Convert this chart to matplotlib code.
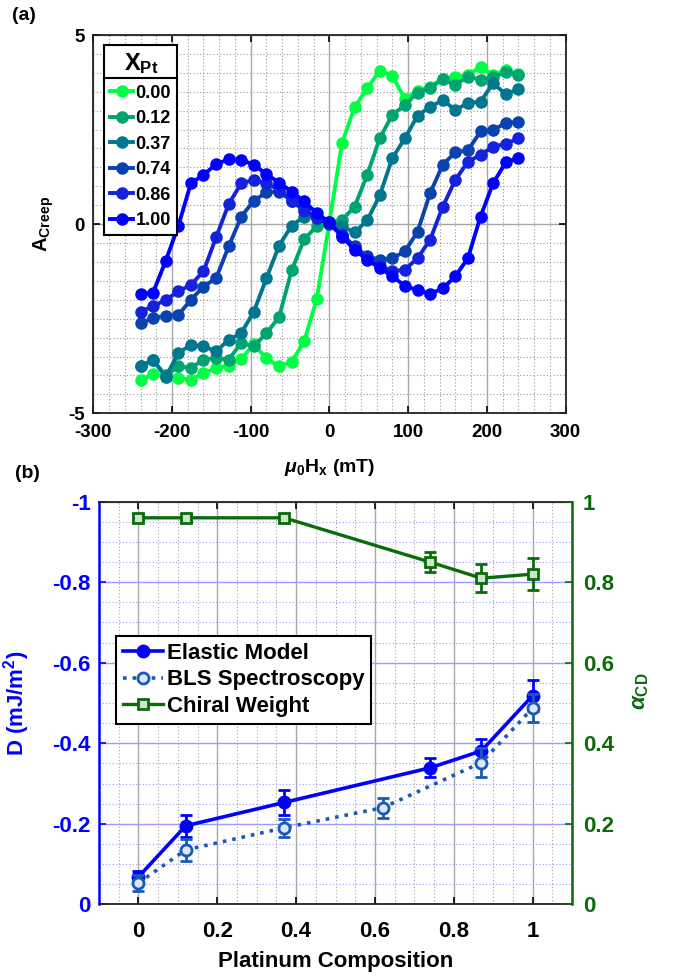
import matplotlib
matplotlib.use("Agg")
import matplotlib.pyplot as plt
from matplotlib.lines import Line2D
from matplotlib.transforms import IdentityTransform
from matplotlib.ticker import MultipleLocator

plt.rcParams['font.family'] = ['Liberation Sans', 'DejaVu Sans']
plt.rcParams['font.weight'] = 'bold'
plt.rcParams['axes.unicode_minus'] = False
plt.rcParams['mathtext.fontset'] = 'custom'
plt.rcParams['mathtext.rm'] = 'Liberation Sans:bold'
plt.rcParams['mathtext.bf'] = 'Liberation Sans:bold'
plt.rcParams['mathtext.it'] = 'Liberation Sans:italic:bold'

# ---------------- data: panel (a) ----------------
field_mT = [-240, -224, -208, -192, -176, -160, -144, -128, -112, -96, -80, -64, -48, -32, -16,
            0, 16, 32, 48, 64, 80, 96, 112, 128, 144, 160, 176, 192, 208, 224, 240]
series_labels = ['0.00', '0.12', '0.37', '0.74', '0.86', '1.00']
series_colors = ['#00FF44', '#00A46E', '#00778E', '#0A42B0', '#1522DC', '#0000FF']
a_x000 = [-4.13, -3.95, -4.05, -4.07, -4.11, -3.94, -3.80, -3.74, -3.56, -3.18, -3.55, -3.76, -3.64, -3.10, -1.97,
          0.05, 2.14, 3.09, 3.59, 4.06, 3.92, 3.30, 3.53, 3.63, 3.85, 3.88, 3.94, 4.16, 3.94, 4.07, 3.97]
a_x012 = [-3.76, -3.60, -4.00, -3.76, -3.80, -3.58, -3.54, -3.58, -3.14, -3.23, -2.88, -2.46, -1.22, -0.40, -0.05,
          0.03, 0.11, 0.46, 1.30, 2.27, 2.89, 3.15, 3.48, 3.60, 3.83, 3.68, 3.90, 3.82, 3.88, 4.02, 3.95]
a_x037 = [-3.76, -3.58, -4.04, -3.41, -3.19, -3.23, -3.36, -3.06, -2.88, -2.31, -1.43, -0.57, -0.04, 0.20, 0.18,
          0.05, -0.05, -0.22, 0.10, 0.76, 1.75, 2.27, 2.87, 3.10, 3.28, 3.02, 3.20, 3.24, 3.72, 3.44, 3.56]
a_x074 = [-2.62, -2.48, -2.42, -2.40, -2.00, -1.65, -1.43, -0.59, 0.20, 0.62, 0.84, 0.86, 0.62, 0.35, 0.15,
          0.02, -0.28, -0.58, -0.85, -0.94, -0.90, -0.72, -0.20, 0.82, 1.57, 1.90, 1.95, 2.45, 2.49, 2.67, 2.71]
a_x086 = [-2.31, -2.17, -2.00, -1.78, -1.60, -1.25, -0.35, 0.53, 1.08, 1.17, 1.08, 0.90, 0.62, 0.38, 0.16,
          0.00, -0.30, -0.62, -0.90, -1.10, -1.25, -1.20, -0.90, -0.41, 0.46, 1.17, 1.65, 1.83, 2.05, 2.12, 2.27]
a_x100 = [-1.85, -1.81, -0.97, -0.05, 1.08, 1.30, 1.59, 1.71, 1.70, 1.57, 1.32, 1.10, 0.86, 0.60, 0.29,
          0.05, -0.33, -0.68, -0.94, -1.16, -1.38, -1.63, -1.75, -1.84, -1.70, -1.38, -0.90, 0.20, 1.08, 1.63, 1.75]
a_series = [a_x000, a_x012, a_x037, a_x074, a_x086, a_x100]

# ---------------- data: panel (b) ----------------
comp_elastic = [0.0, 0.12, 0.37, 0.74, 0.87, 1.0]
D_elastic = [-0.068, -0.195, -0.253, -0.339, -0.381, -0.518]
D_elastic_err = [0.015, 0.027, 0.030, 0.024, 0.030, 0.038]
comp_bls = [0.0, 0.12, 0.37, 0.62, 0.87, 1.0]
D_bls = [-0.053, -0.135, -0.190, -0.240, -0.352, -0.487]
D_bls_err = [0.020, 0.027, 0.022, 0.025, 0.037, 0.035]
comp_chiral = [0.0, 0.12, 0.37, 0.74, 0.87, 1.0]
alpha_chiral = [0.96, 0.96, 0.96, 0.85, 0.81, 0.82]
alpha_chiral_err = [0.010, 0.008, 0.010, 0.025, 0.035, 0.040]

xticks_a = [-300, -200, -100, 0, 100, 200, 300]
yticks_a = [-5, 0, 5]
xticks_b = [0, 0.2, 0.4, 0.6, 0.8, 1]
xticklabels_b = ['0', '0.2', '0.4', '0.6', '0.8', '1']
yticks_b_left = [0, -0.2, -0.4, -0.6, -0.8, -1]
yticklabels_b_left = ['0', '-0.2', '-0.4', '-0.6', '-0.8', '-1']
yticks_b_right = [0, 0.2, 0.4, 0.6, 0.8, 1]
yticklabels_b_right = ['0', '0.2', '0.4', '0.6', '0.8', '1']

BLUE = '#0000FF'
BLS_C = '#1A5AB4'
GREEN = '#0B6B0B'

W, H = 675, 977
fig = plt.figure(figsize=(W / 100, H / 100), dpi=100)

# ================= panel (a) =================
ax = fig.add_axes([93.3 / W, 1 - 413.3 / H, 472.2 / W, 378.3 / H])
for ys, lab, col in zip(a_series, series_labels, series_colors):
    ax.plot(field_mT, ys, '-o', color=col, lw=2.8, ms=8, mec=col, mfc=col, label=lab)
ax.set_xlim(-300, 300)
ax.set_ylim(-5, 5)
ax.set_xticks(xticks_a)
ax.set_yticks(yticks_a)
ax.xaxis.set_minor_locator(MultipleLocator(20))
ax.yaxis.set_minor_locator(MultipleLocator(0.5))
ax.grid(which='major', color='#A8A8A8', lw=1.0, ls='-')
ax.grid(which='minor', color='#9A9A9A', lw=0.8, ls=(0, (1, 2)))
ax.set_axisbelow(True)
ax.tick_params(which='major', direction='in', top=True, right=True, length=5, width=1.2,
               labelsize=13.5, pad=8)
ax.tick_params(axis='y', which='major', pad=6)
ax.tick_params(which='minor', length=0)
for s in ax.spines.values():
    s.set_linewidth(1.3)
    s.set_color('#222222')
ax.set_ylabel(r'$\mathbf{A_{Creep}}$', fontsize=14.5)
ax.yaxis.set_label_coords(-0.079, 0.5)
fig.text(329.3 / W, 1 - 467 / H, r'$\mathit{\mu}_{\mathbf{0}}\mathbf{H_x}$ (mT)', ha='center', va='center',
         fontsize=14, fontweight='bold')
fig.text(12 / W, 1 - 16 / H, '(a)', fontsize=14, fontweight='bold', va='center', ha='left')

leg = ax.legend(loc='upper left', bbox_to_anchor=(0.0227, 0.9736), borderaxespad=0,
                fontsize=13, title=r'$\mathbf{X_{Pt}}$', title_fontsize=17,
                handlelength=1.25, handletextpad=0.15, labelspacing=0.47, borderpad=0.35,
                fancybox=False, framealpha=1, edgecolor='black')
leg.get_frame().set_linewidth(1.5)
for t in leg.get_texts():
    t.set_fontweight('bold')

# ================= panel (b) =================
bx = fig.add_axes([99 / W, 1 - 904.3 / H, 473 / W, 402.6 / H])
bx.set_xlim(-0.1, 1.1)
bx.set_ylim(0, -1)
bx.set_xticks(xticks_b)
bx.set_xticklabels(xticklabels_b)
bx.set_yticks(yticks_b_left)
bx.set_yticklabels(yticklabels_b_left)
bx.xaxis.set_minor_locator(MultipleLocator(0.05))
bx.yaxis.set_minor_locator(MultipleLocator(0.05))
bx.grid(axis='x', which='major', color='#A8A8A8', lw=1.0, ls='-')
bx.grid(axis='x', which='minor', color='#A0A0A0', lw=0.8, ls=(0, (1, 2)))
bx.grid(axis='y', which='major', color='#9C9CFF', lw=1.0, ls='-')
bx.grid(axis='y', which='minor', color='#9C9CFF', lw=0.8, ls=(0, (1, 2)))
bx.set_axisbelow(True)
bx.tick_params(which='major', direction='in', top=True, length=5, width=1.2, labelsize=16)
bx.tick_params(axis='x', pad=12)
bx.tick_params(axis='y', colors=BLUE, pad=6)
bx.tick_params(which='minor', length=0)
bx.spines['left'].set_color(BLUE)
bx.spines['left'].set_linewidth(1.8)
for k in ('top', 'bottom'):
    bx.spines[k].set_color('#222222')
    bx.spines[k].set_linewidth(1.3)

bx.errorbar(comp_elastic, D_elastic, yerr=D_elastic_err, fmt='none', ecolor=BLUE,
            elinewidth=2.0, capsize=4, capthick=2.0)
h1, = bx.plot(comp_elastic, D_elastic, '-o', color=BLUE, lw=2.6, ms=9, mfc=BLUE, mec=BLUE,
              label='Elastic Model')
bx.errorbar(comp_bls, D_bls, yerr=D_bls_err, fmt='none', ecolor=BLS_C,
            elinewidth=2.0, capsize=4, capthick=2.0)
h2, = bx.plot(comp_bls, D_bls, ':o', color=BLS_C, lw=2.6, ms=8, mfc='#DDE6F5', mec=BLS_C, mew=2.0,
              label='BLS Spectroscopy')
bx.set_ylabel(r'D (mJ/m$^\mathbf{2}$)', color=BLUE, fontsize=16, fontweight='bold')
bx.yaxis.set_label_coords(-0.142, 0.5)

rx = bx.twinx()
rx.set_ylim(0, 1)
rx.set_yticks(yticks_b_right)
rx.set_yticklabels(yticklabels_b_right)
rx.tick_params(axis='y', direction='in', colors=GREEN, length=5, width=1.2, labelsize=16, pad=8)
rx.spines['right'].set_color(GREEN)
rx.spines['right'].set_linewidth(1.8)
rx.spines['left'].set_visible(False)
rx.spines['top'].set_visible(False)
rx.spines['bottom'].set_visible(False)
rx.errorbar(comp_chiral, alpha_chiral, yerr=alpha_chiral_err, fmt='none', ecolor=GREEN,
            elinewidth=2.0, capsize=4, capthick=2.0)
h3, = rx.plot(comp_chiral, alpha_chiral, '-s', color=GREEN, lw=2.4, ms=7, mfc='#CFE3CF', mec=GREEN, mew=2.0,
              label='Chiral Weight')
rx.set_ylabel(r'$\mathit{\alpha}_{\mathbf{CD}}$', color=GREEN, fontsize=16)
rx.yaxis.set_label_coords(1.123, 0.53)

leg2 = rx.legend(handles=[h1, h2, h3], loc='upper left', bbox_to_anchor=(0.036, 0.666), borderaxespad=0,
                 fontsize=16, handlelength=1.8, handletextpad=0.2, labelspacing=0.25, borderpad=0.3,
                 fancybox=False, framealpha=1, edgecolor='black')
leg2.get_frame().set_linewidth(1.5)
for t in leg2.get_texts():
    t.set_fontweight('bold')

fig.text(335.5 / W, 1 - 962 / H, 'Platinum Composition', fontsize=16, fontweight='bold',
         ha='center', va='center')
fig.text(15 / W, 1 - 473 / H, '(b)', fontsize=14, fontweight='bold', va='center', ha='left')

# separator line under legend title in panel (a)
fig.canvas.draw()
r = fig.canvas.get_renderer()
fb = leg.get_frame().get_window_extent(r)
tb = leg.get_title().get_window_extent(r)
ysep = tb.y0 - 2
fig.add_artist(Line2D([fb.x0, fb.x1], [ysep, ysep], transform=IdentityTransform(),
                      color='black', lw=1.5, zorder=10))

fig.savefig('out.png', dpi=100)
